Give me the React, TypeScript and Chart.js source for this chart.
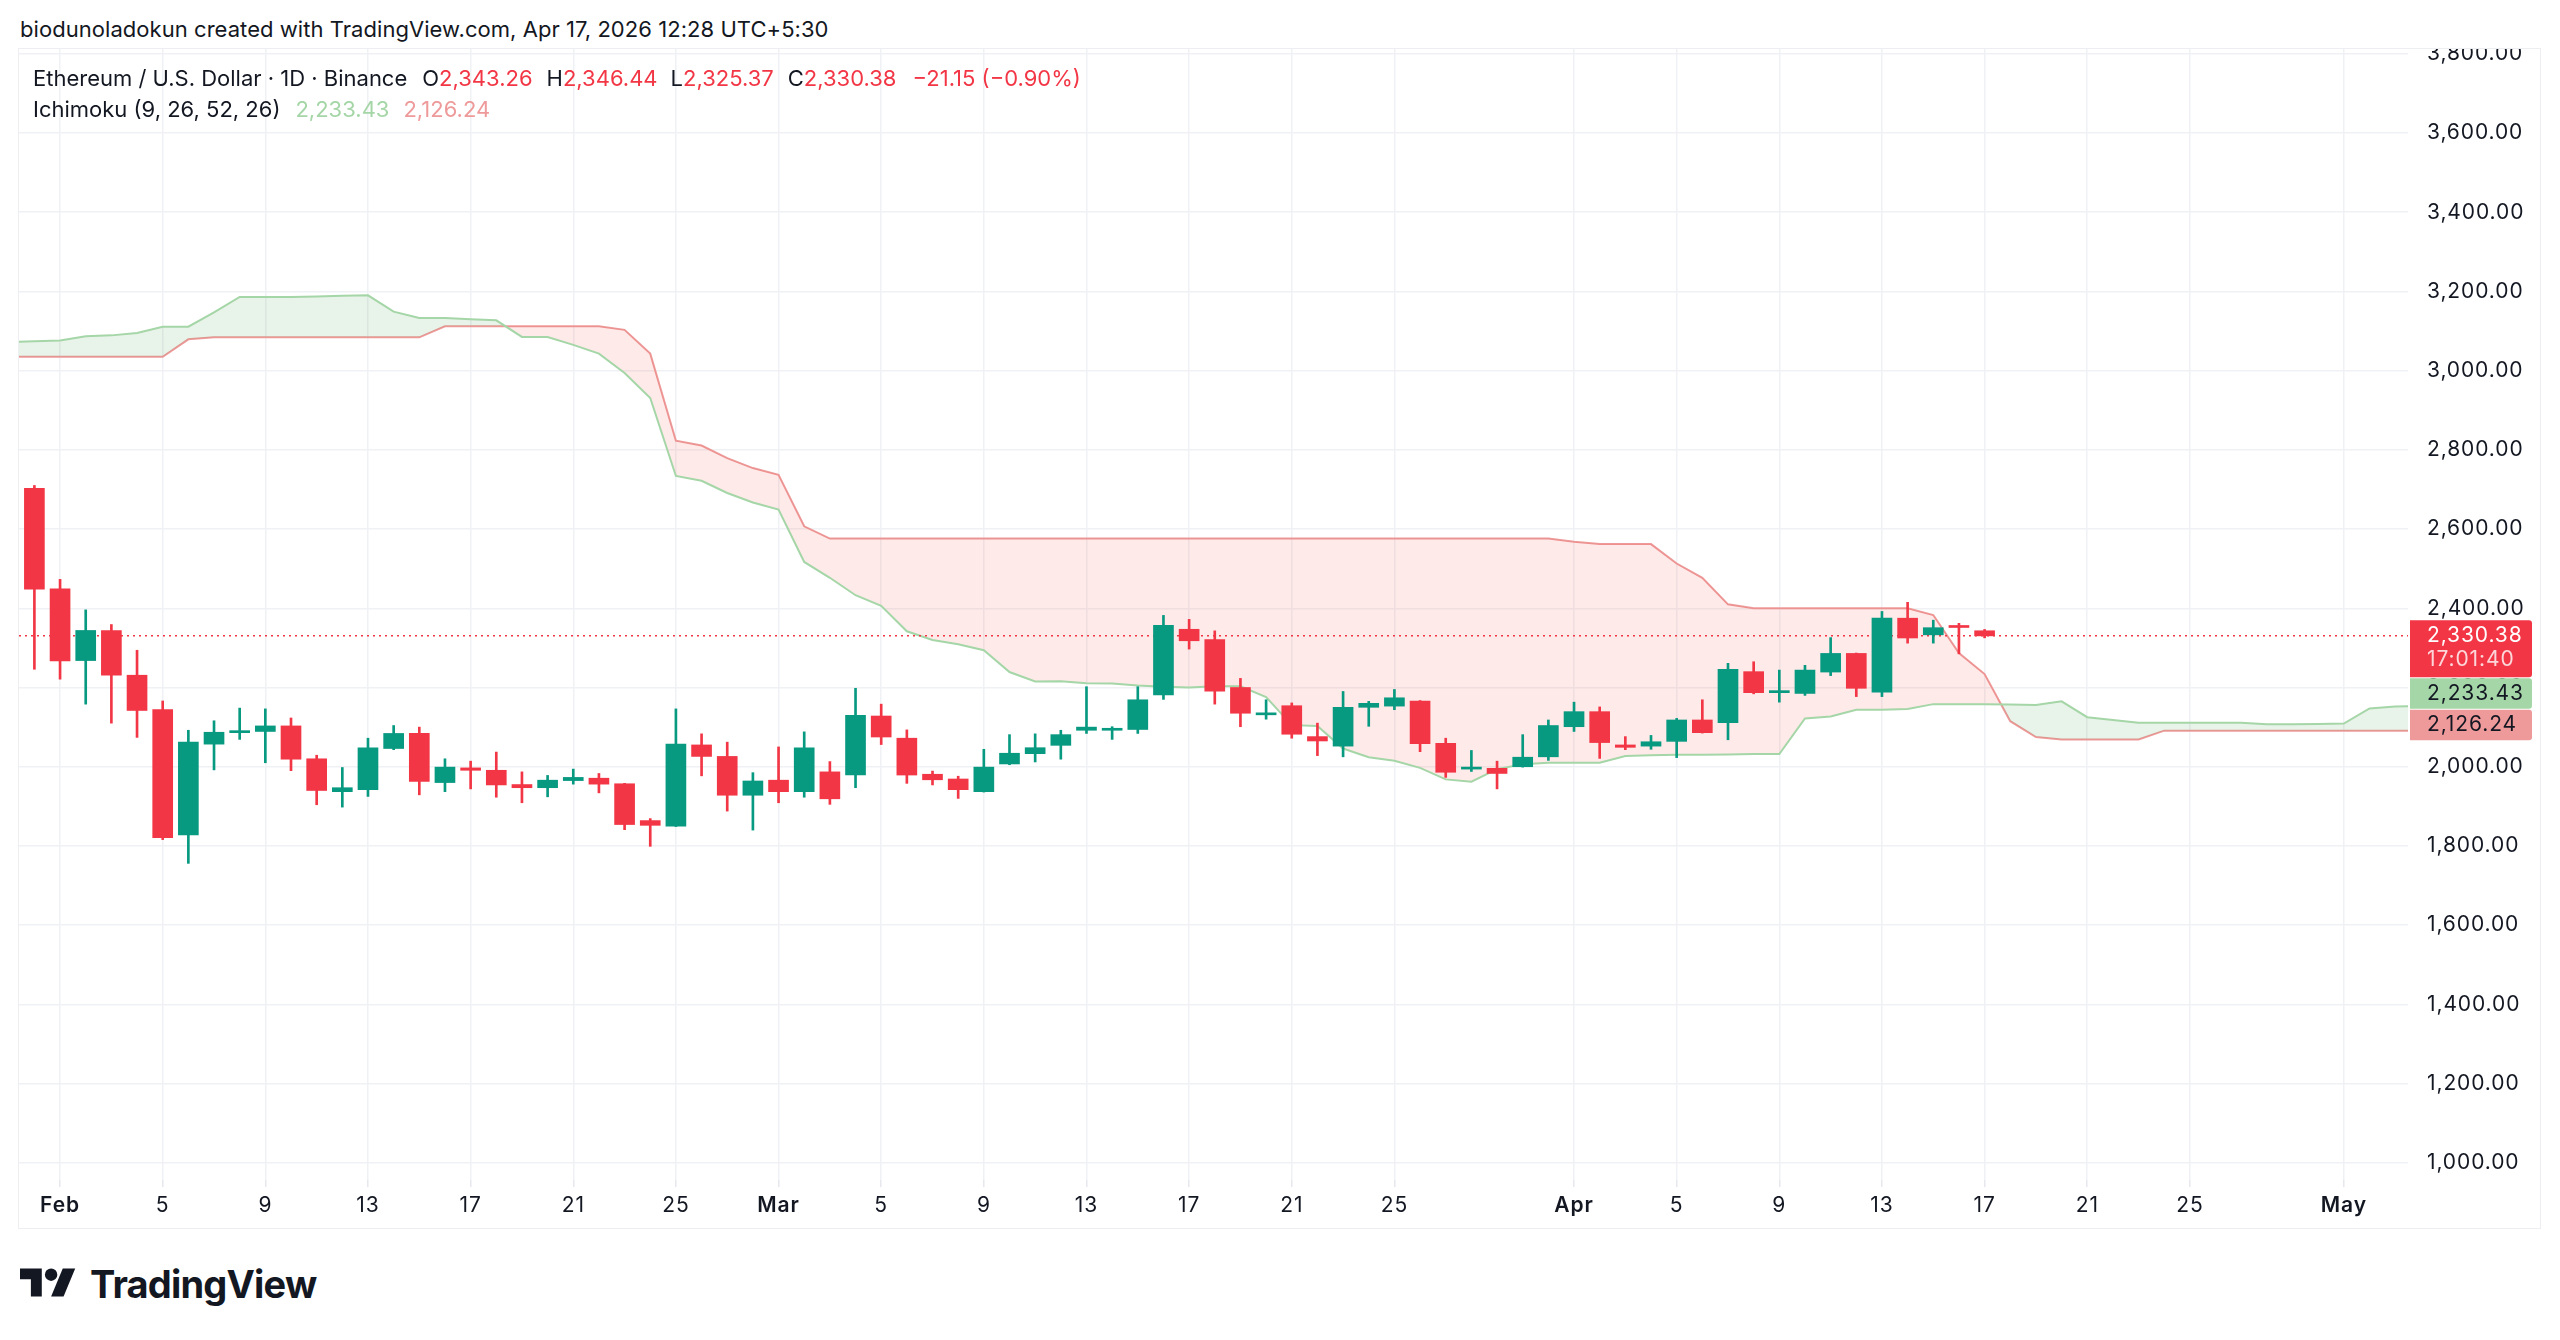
import React, { useEffect, useRef } from "react";
import { Chart, registerables } from "chart.js";

Chart.register(...registerables);

// ---------- data ----------
const candleStartDate = "2026-01-31";

const opens = [
  2703, 2449, 2268, 2344, 2231, 2144, 1828, 2057, 2086, 2089,
  2103, 2020, 1937, 1942, 2046, 2084, 1960, 1997, 1991, 1955,
  1947, 1965, 1971, 1957, 1864, 1850, 2055, 2026, 1928, 1966,
  1937, 1987, 1979, 2128, 2072, 1981, 1969, 1937, 2007, 2033,
  2054, 2092, 2092, 2094, 2181, 2347, 2321, 2200, 2131, 2154,
  2076, 2052, 2150, 2153, 2166, 2059, 1994, 1996, 2000, 2025,
  2101, 2139, 2055, 2052, 2064, 2118, 2111, 2240, 2187, 2185,
  2239, 2286, 2188, 2375, 2333, 2354, 2343.26,
];
const highs = [
  2710, 2473, 2396, 2359, 2294, 2166, 2092, 2116, 2148, 2146,
  2123, 2029, 1998, 2072, 2104, 2100, 2020, 2014, 2037, 1987,
  1978, 1994, 1983, 1958, 1869, 2146, 2083, 2062, 1985, 2050,
  2088, 2013, 2198, 2158, 2093, 1989, 1976, 2044, 2081, 2083,
  2092, 2202, 2101, 2202, 2382, 2372, 2343, 2223, 2169, 2161,
  2110, 2190, 2165, 2195, 2167, 2072, 2041, 2014, 2081, 2118,
  2163, 2151, 2076, 2079, 2122, 2169, 2261, 2265, 2244, 2256,
  2326, 2287, 2392, 2415, 2370, 2362, 2346.44,
];
const lows = [
  2246, 2221, 2158, 2110, 2074, 1816, 1756, 1992, 2069, 2010,
  1990, 1904, 1898, 1925, 2043, 1929, 1937, 1944, 1923, 1909,
  1924, 1956, 1934, 1841, 1799, 1849, 1977, 1888, 1840, 1909,
  1923, 1905, 1947, 2056, 1958, 1954, 1920, 1936, 2005, 2012,
  2019, 2084, 2069, 2084, 2170, 2297, 2158, 2101, 2120, 2072,
  2028, 2025, 2102, 2144, 2038, 1973, 1988, 1944, 1999, 2016,
  2089, 2021, 2043, 2044, 2023, 2085, 2068, 2184, 2163, 2180,
  2230, 2177, 2177, 2312, 2312, 2285, 2325.37,
];
const closes = [
  2448, 2267, 2344, 2231, 2142, 1821, 2062, 2087, 2089, 2103,
  2019, 1940, 1947, 2048, 2084, 1963, 1999, 1991, 1954, 1947,
  1966, 1973, 1956, 1854, 1852, 2057, 2026, 1928, 1964, 1937,
  2048, 1919, 2130, 2075, 1979, 1967, 1942, 1999, 2034, 2048,
  2081, 2100, 2096, 2169, 2357, 2318, 2191, 2135, 2135, 2082,
  2065, 2150, 2160, 2174, 2058, 1986, 1997, 1983, 2024, 2104,
  2139, 2061, 2049, 2063, 2118, 2086, 2246, 2187, 2190, 2244,
  2286, 2198, 2375, 2325, 2351, 2351.53, 2330.38,
];

const cloudStartDate = "2026-01-30";
const leadingSpanA = [
  3072, 3074, 3076, 3087, 3089, 3095, 3111, 3111, 3147, 3186,
  3186, 3186, 3187, 3189, 3190, 3149, 3133, 3133, 3130, 3127,
  3085, 3085, 3065, 3043, 2994, 2931, 2734, 2722, 2691, 2667,
  2649, 2517, 2477, 2433, 2406, 2342, 2320, 2309, 2294, 2239,
  2215, 2216, 2211, 2210, 2205, 2202, 2200, 2203, 2203, 2176,
  2105, 2103, 2046, 2024, 2015, 1997, 1968, 1962, 1994, 2006,
  2010, 2010, 2010, 2027, 2029, 2030, 2030, 2031, 2032, 2032,
  2122, 2127, 2144, 2144, 2146, 2158, 2158, 2158, 2157, 2156,
  2165, 2125, 2118, 2111, 2111, 2111, 2111, 2111, 2107, 2107,
  2108, 2109, 2147, 2152, 2153,
];
const leadingSpanB = [
  3035, 3035, 3035, 3035, 3035, 3035, 3035, 3079, 3084, 3084,
  3084, 3084, 3084, 3084, 3084, 3084, 3084, 3112, 3112, 3112,
  3112, 3112, 3112, 3112, 3103, 3043, 2823, 2811, 2779, 2754,
  2737, 2607, 2576, 2576, 2576, 2576, 2576, 2576, 2576, 2576,
  2576, 2576, 2576, 2576, 2576, 2576, 2576, 2576, 2576, 2576,
  2576, 2576, 2576, 2576, 2576, 2576, 2576, 2576, 2576, 2576,
  2576, 2568, 2562, 2562, 2562, 2513, 2477, 2410, 2400, 2400,
  2400, 2400, 2400, 2400, 2400, 2383, 2287, 2234, 2115, 2075,
  2069, 2069, 2069, 2069, 2091, 2091, 2091, 2091, 2091, 2091,
  2091, 2091, 2091, 2091, 2091,
];

const xTickDates = [
  "2026-02-01", "2026-02-05", "2026-02-09", "2026-02-13", "2026-02-17", "2026-02-21", "2026-02-25",
  "2026-03-01", "2026-03-05", "2026-03-09", "2026-03-13", "2026-03-17", "2026-03-21", "2026-03-25",
  "2026-04-01", "2026-04-05", "2026-04-09", "2026-04-13", "2026-04-17", "2026-04-21", "2026-04-25",
  "2026-05-01",
];
const xTickTexts = [
  "Feb", "5", "9", "13", "17", "21", "25",
  "Mar", "5", "9", "13", "17", "21", "25",
  "Apr", "5", "9", "13", "17", "21", "25",
  "May",
];
const monthTickTexts = ["Feb", "Mar", "Apr", "May"];
const yTickValues = [1000, 1200, 1400, 1600, 1800, 2000, 2200, 2400, 2600, 2800, 3000, 3200, 3400, 3600, 3800];

const ichimokuLegendValues = [2233.43, 2126.24];
const countdownText = "17:01:40";

// ---------- helpers ----------
const DAY_MS = 86400000;
const BASE = Date.UTC(2026, 1, 1);
function dayOffset(iso: string) {
  const [y, m, d] = iso.split("-").map(Number);
  return (Date.UTC(y, m - 1, d) - BASE) / DAY_MS;
}
const fmt = (v: number) =>
  v.toLocaleString("en-US", { minimumFractionDigits: 2, maximumFractionDigits: 2 });

const UP = "#089981";
const DOWN = "#F23645";
const SPAN_A_COLOR = "#A5D6A7";
const SPAN_B_COLOR = "#EF9A9A";
const TEXT = "#131722";
const FONT = "Inter, 'Noto Sans', sans-serif";

const candleStart = dayOffset(candleStartDate);
const cloudStart = dayOffset(cloudStartDate);
const xTickDays = xTickDates.map(dayOffset);

const lastIdx = closes.length - 1;
const lastClose = closes[lastIdx];
const prevClose = closes[lastIdx - 1];
const change = lastClose - prevClose;
const changePct = (change / prevClose) * 100;
const sign = change < 0 ? "\u2212" : "+";

const X_MIN = -1.6;
const X_MAX = 91.5;
const Y_MIN = 956.6;
const Y_MAX = 3812;

const letterSpacingPlugin = {
  id: "letterSpacing",
  beforeDraw(chart: any) {
    chart.ctx.letterSpacing = "0.9px";
  },
};

const axisLabelPlugin = {
  id: "axisLabels",
  afterDraw(chart: any) {
    const { ctx, chartArea, scales } = chart;
    const y = scales.y;
    const left = chartArea.right + 2;
    const w = 122;
    const textX = chartArea.right + 19;
    const yLast = y.getPixelForValue(lastClose);
    const redTop = yLast - 15.5;
    const redH = 57;
    const gTop = redTop + redH + 1;
    const h = 30.5;
    const pTop = gTop + h + 1;
    ctx.save();
    const box = (top: number, height: number, color: string) => {
      ctx.fillStyle = color;
      ctx.beginPath();
      if (ctx.roundRect) ctx.roundRect(left, top, w, height, [0, 3, 3, 0]);
      else ctx.rect(left, top, w, height);
      ctx.fill();
    };
    box(redTop, redH, DOWN);
    box(gTop, h, SPAN_A_COLOR);
    box(pTop, h, SPAN_B_COLOR);
    ctx.font = `21px ${FONT}`;
    ctx.textBaseline = "middle";
    ctx.textAlign = "left";
    ctx.fillStyle = "#ffffff";
    ctx.fillText(fmt(lastClose), textX, yLast);
    ctx.fillStyle = "rgba(255,255,255,0.8)";
    ctx.fillText(countdownText, textX, yLast + 24);
    ctx.fillStyle = TEXT;
    ctx.fillText(fmt(ichimokuLegendValues[0]), textX, gTop + h / 2);
    ctx.fillText(fmt(ichimokuLegendValues[1]), textX, pTop + h / 2);
    ctx.restore();
  },
};

function buildConfig(): any {
  const bodyData = opens.map((o, i) => ({ x: candleStart + i, y: [o, closes[i]] }));
  const wickData = lows.map((l, i) => ({ x: candleStart + i, y: [l, highs[i]] }));
  const colors = opens.map((o, i) => (closes[i] >= o ? UP : DOWN));
  const spanAData = leadingSpanA.map((v, i) => ({ x: cloudStart + i, y: v }));
  const spanBData = leadingSpanB.map((v, i) => ({ x: cloudStart + i, y: v }));

  return {
    type: "bar",
    data: {
      datasets: [
        {
          type: "bar",
          label: "body",
          data: bodyData,
          backgroundColor: colors,
          borderWidth: 0,
          barThickness: 20,
          minBarLength: 2,
          grouped: false,
          order: 0,
        },
        {
          type: "bar",
          label: "wick",
          data: wickData,
          backgroundColor: colors,
          borderWidth: 0,
          barThickness: 2,
          grouped: false,
          order: 1,
        },
        {
          type: "line",
          label: "last",
          data: [
            { x: X_MIN, y: lastClose },
            { x: X_MAX, y: lastClose },
          ],
          borderColor: DOWN,
          borderWidth: 1.5,
          borderDash: [2, 4],
          pointRadius: 0,
          fill: false,
          order: 2,
        },
        {
          type: "line",
          label: "Leading Span A",
          data: spanAData,
          borderColor: SPAN_A_COLOR,
          borderWidth: 2,
          pointRadius: 0,
          tension: 0,
          fill: { target: 4, above: "rgba(67,160,71,0.12)", below: "rgba(244,67,54,0.11)" },
          order: 3,
        },
        {
          type: "line",
          label: "Leading Span B",
          data: spanBData,
          borderColor: SPAN_B_COLOR,
          borderWidth: 2,
          pointRadius: 0,
          tension: 0,
          fill: false,
          order: 4,
        },
      ],
    },
    options: {
      animation: false,
      responsive: true,
      maintainAspectRatio: false,
      layout: { padding: 0 },
      plugins: { legend: { display: false }, tooltip: { enabled: false } },
      scales: {
        x: {
          type: "linear",
          position: "bottom",
          min: X_MIN,
          max: X_MAX,
          offset: false,
          afterBuildTicks: (scale: any) => {
            scale.ticks = xTickDays.map((v) => ({ value: v }));
          },
          afterFit: (scale: any) => {
            scale.height = 49;
            scale.paddingLeft = 0;
            scale.paddingRight = 0;
          },
          grid: {
            color: "#f0f1f4",
            lineWidth: 1.5,
            offset: false,
            drawTicks: true,
            tickLength: 7,
            tickColor: "#e6e8ee",
          },
          border: { display: false },
          ticks: {
            autoSkip: false,
            maxRotation: 0,
            padding: 6,
            color: TEXT,
            font: (ctx: any) => {
              const t = xTickTexts[ctx.index];
              return {
                family: FONT,
                size: 21,
                weight: monthTickTexts.includes(t) ? "600" : "400",
              };
            },
            callback: (_v: any, i: number) => xTickTexts[i],
          },
        },
        y: {
          type: "linear",
          position: "right",
          min: Y_MIN,
          max: Y_MAX,
          afterBuildTicks: (scale: any) => {
            scale.ticks = yTickValues.map((v) => ({ value: v }));
          },
          afterFit: (scale: any) => {
            scale.width = 133;
            scale.paddingTop = 0;
            scale.paddingBottom = 0;
          },
          grid: { color: "#f0f1f4", lineWidth: 1.5, drawTicks: false },
          border: { display: false },
          ticks: {
            padding: 19,
            color: TEXT,
            font: { family: FONT, size: 21 },
            callback: (v: any) => fmt(Number(v)),
          },
        },
      },
    },
    plugins: [letterSpacingPlugin, axisLabelPlugin],
  };
}

export default function App() {
  const canvasRef = useRef<HTMLCanvasElement>(null);
  useEffect(() => {
    const chart = new Chart(canvasRef.current as HTMLCanvasElement, buildConfig());
    return () => chart.destroy();
  }, []);

  const ohlc = [
    ["O", opens[lastIdx]],
    ["H", highs[lastIdx]],
    ["L", lows[lastIdx]],
    ["C", closes[lastIdx]],
  ] as [string, number][];
  const ohlcGaps = [15, 14, 13, 14];

  return (
    <div
      style={{
        position: "fixed",
        left: 0,
        top: 0,
        width: 2560,
        height: 1340,
        background: "#ffffff",
        overflow: "hidden",
        fontFamily: FONT,
        color: TEXT,
      }}
    >
      <div style={{ position: "absolute", left: 20, top: 15, fontSize: 22, lineHeight: "28px", whiteSpace: "nowrap", letterSpacing: 0.05 }}>
        biodunoladokun created with TradingView.com, Apr 17, 2026 12:28 UTC+5:30
      </div>

      <div
        style={{
          position: "absolute",
          left: 18,
          top: 48,
          width: 2523,
          height: 1181,
          border: "1.5px solid #eceef2",
          boxSizing: "border-box",
        }}
      />

      <div style={{ position: "absolute", left: 19, top: 49, width: 2522, height: 1180 }}>
        <canvas ref={canvasRef} />
      </div>

      <div
        style={{
          position: "absolute",
          left: 33,
          top: 63,
          fontSize: 22,
          lineHeight: "31px",
          whiteSpace: "nowrap",
        }}
      >
        <div>
          <span>Ethereum / U.S. Dollar · 1D · Binance</span>
          {ohlc.map(([k, v], i) => (
            <span key={k} style={{ marginLeft: ohlcGaps[i] }}>
              {k}
              <span style={{ color: DOWN }}>{fmt(v)}</span>
            </span>
          ))}
          <span style={{ marginLeft: 16, color: DOWN }}>
            {sign}
            {fmt(Math.abs(change))} ({sign}
            {Math.abs(changePct).toFixed(2)}%)
          </span>
        </div>
        <div>
          <span>Ichimoku (9, 26, 52, 26)</span>
          <span style={{ marginLeft: 15, color: SPAN_A_COLOR }}>{fmt(ichimokuLegendValues[0])}</span>
          <span style={{ marginLeft: 14, color: SPAN_B_COLOR }}>{fmt(ichimokuLegendValues[1])}</span>
        </div>
      </div>

      <div style={{ position: "absolute", left: 20, top: 1262, display: "flex", alignItems: "flex-start" }}>
        <svg width={56} height={44} viewBox="0 0 36 28" style={{ display: "block" }}>
          <path d="M14 22H7V11H0V4h14v18z" fill={TEXT} />
          <path d="M28 22h-8l7.5-18h8L28 22z" fill={TEXT} />
          <circle cx="20" cy="8" r="4" fill={TEXT} />
        </svg>
        <div
          style={{
            marginLeft: 14,
            marginTop: 3,
            fontSize: 38,
            lineHeight: "38px",
            fontWeight: 700,
            letterSpacing: -0.8,
          }}
        >
          TradingView
        </div>
      </div>
    </div>
  );
}
